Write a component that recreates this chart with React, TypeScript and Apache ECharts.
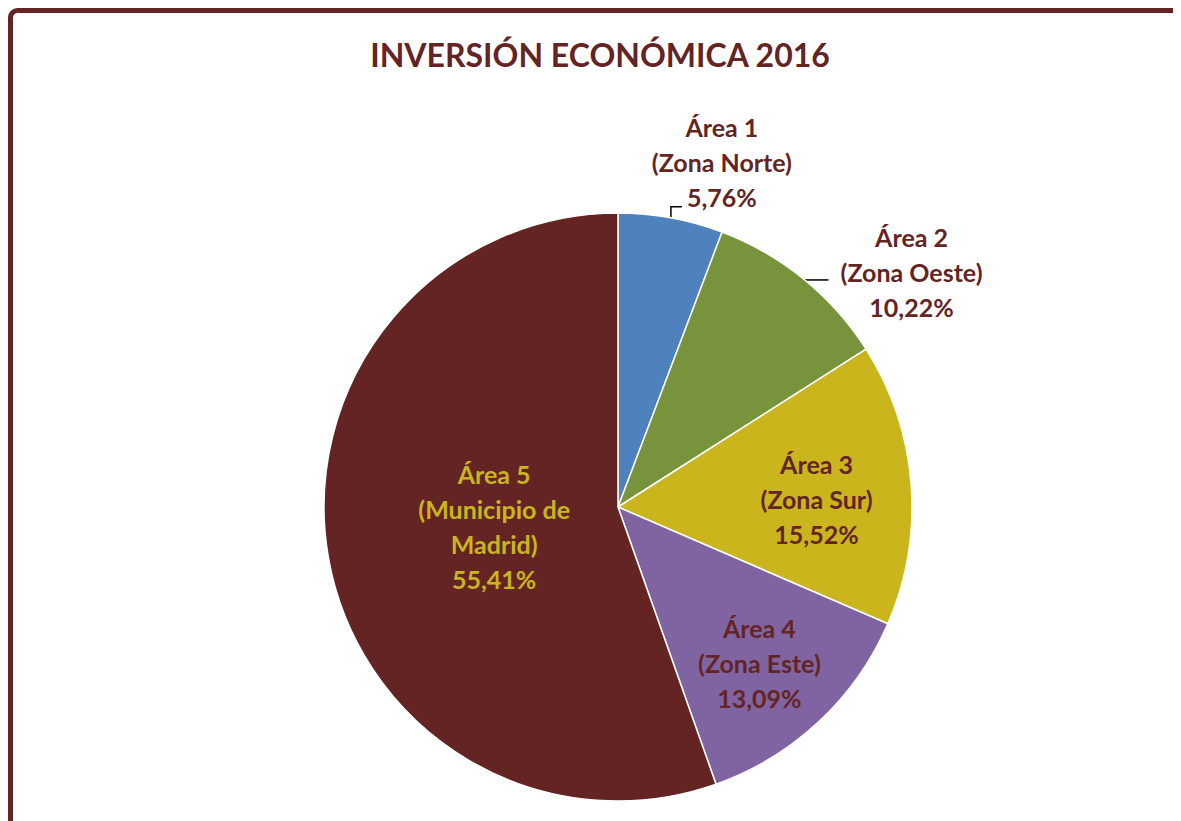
import React, { useEffect, useRef } from "react";
import * as echarts from "echarts";

const TITLE = "INVERSIÓN ECONÓMICA 2016";
const areaNames = ["Área 1", "Área 2", "Área 3", "Área 4", "Área 5"];
const zoneNames = ["(Zona Norte)", "(Zona Oeste)", "(Zona Sur)", "(Zona Este)", "(Municipio de\nMadrid)"];
const shares = [5.76, 10.22, 15.52, 13.09, 55.41];
const sliceColors = ["#4F81BD", "#77933C", "#CAB51D", "#8064A2", "#632423"];
const labelColors = ["#632423", "#632423", "#632423", "#632423", "#CAB51D"];

const DARK = "#632423";
const FONT = "Lato, 'Noto Sans', sans-serif";

const fmt = (v: number) => v.toFixed(2).replace(".", ",") + "%";

export default function App() {
  const ref = useRef<HTMLDivElement>(null);

  useEffect(() => {
    if (!ref.current) return;
    document.documentElement.style.overflow = "hidden";
    const chart = echarts.init(ref.current, undefined, { renderer: "svg" });

    const insideOffsets: Record<number, number[]> = {
      2: [49, 4],
      3: [39, 46],
      4: [24, -6],
    };

    const data = shares.map((v, i) => {
      const inside = i >= 2;
      return {
        value: v,
        name: areaNames[i],
        itemStyle: { color: sliceColors[i] },
        label: inside
          ? { position: "inside", offset: insideOffsets[i], color: labelColors[i] }
          : { position: "outside", color: labelColors[i] },
        labelLine: { show: !inside },
      };
    });

    chart.setOption({
      animation: false,
      backgroundColor: "#ffffff",
      title: {
        text: TITLE,
        left: 592,
        top: 30,
        padding: 0,
        textAlign: "center",
        textStyle: {
          color: DARK,
          fontFamily: FONT,
          fontWeight: "bold",
          fontSize: 32,
        },
      },
      graphic: [
        {
          type: "rect",
          shape: { x: 2.5, y: 2.5, width: 1400, height: 1400, r: 7 },
          style: { fill: "none", stroke: DARK, lineWidth: 5 },
          silent: true,
          z: 100,
        },
      ],
      series: [
        {
          type: "pie",
          center: [610, 499],
          radius: 294,
          startAngle: 90,
          clockwise: true,
          avoidLabelOverlap: false,
          itemStyle: { borderColor: "#ffffff", borderWidth: 1.5 },
          emphasis: { disabled: true },
          label: {
            show: true,
            fontFamily: FONT,
            fontWeight: "bold",
            fontSize: 25,
            lineHeight: 35,
            align: "center",
            formatter: (p: any) =>
              `${areaNames[p.dataIndex]}\n${zoneNames[p.dataIndex]}\n${fmt(p.value)}`,
          },
          labelLine: {
            length: 0,
            length2: 25,
            lineStyle: { color: "#000000", width: 1.5 },
          },
          labelLayout: (params: any) => {
            const pts = params.labelLinePoints;
            if (!pts || params.dataIndex > 1) return {};
            const a = pts[0];
            if (params.dataIndex === 0) {
              return {
                x: a[0] + 51,
                y: a[1] - 56,
                align: "center",
                verticalAlign: "middle",
                labelLinePoints: [
                  [a[0], a[1]],
                  [a[0], a[1] - 11],
                  [a[0] + 11, a[1] - 11],
                ],
              };
            }
            return {
              x: a[0] + 108,
              y: a[1] - 7,
              align: "center",
              verticalAlign: "middle",
              labelLinePoints: [
                [a[0], a[1] + 1],
                [a[0] + 12, a[1] + 1],
                [a[0] + 25, a[1] + 1],
              ],
            };
          },
          data,
        },
      ],
    });

    return () => chart.dispose();
  }, []);

  return <div ref={ref} style={{ width: 1173, height: 813 }} />;
}
